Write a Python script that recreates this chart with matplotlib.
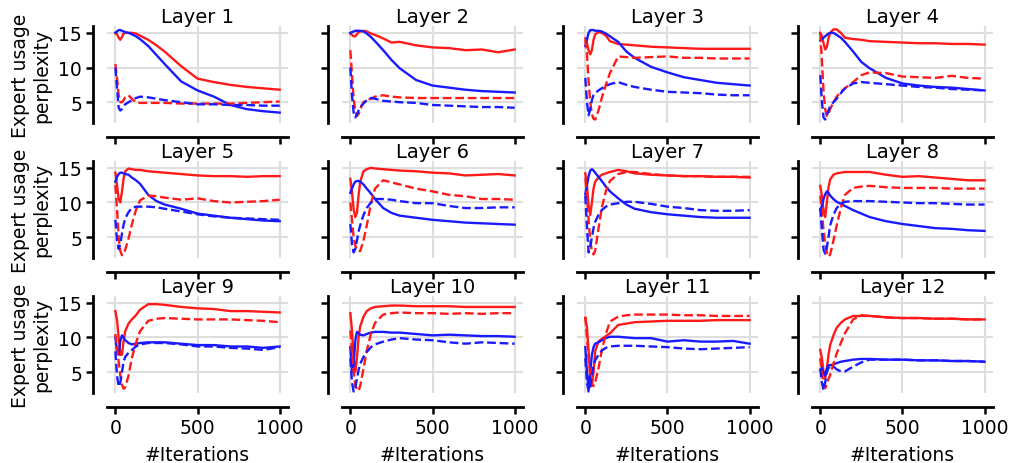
import numpy as np
import matplotlib
matplotlib.use("Agg")
import matplotlib.pyplot as plt

iters = [0, 10, 20, 30, 40, 50, 60, 80, 100, 125, 150, 200, 250, 300, 400, 500, 600, 700, 800, 900, 1000]
layers = ["Layer %d" % i for i in range(1, 13)]

# per layer: red solid, blue solid, red dashed, blue dashed
red_solid = [
    [15.0, 14.8, 14.3, 14.0, 14.4, 14.9, 15.0, 15.0, 15.0, 14.9, 14.6, 14.0, 13.2, 12.3, 10.2, 8.4, 7.9, 7.5, 7.2, 7.0, 6.8],
    [14.9, 14.7, 14.5, 14.5, 14.8, 15.1, 15.2, 15.3, 15.2, 14.9, 14.7, 14.2, 13.6, 13.7, 13.2, 12.9, 12.8, 12.5, 12.6, 12.2, 12.6],
    [14.2, 13.5, 12.5, 11.9, 12.5, 14.0, 14.8, 15.1, 15.0, 14.6, 13.8, 13.4, 13.3, 13.2, 13.0, 12.9, 12.8, 12.7, 12.7, 12.7, 12.7],
    [15.0, 14.5, 13.5, 12.6, 13.0, 14.2, 15.0, 15.5, 15.5, 15.0, 14.3, 14.1, 14.0, 13.8, 13.7, 13.6, 13.5, 13.5, 13.4, 13.4, 13.3],
    [14.3, 12.5, 10.5, 10.0, 11.5, 13.5, 14.5, 14.9, 14.8, 14.7, 14.7, 14.5, 14.4, 14.3, 14.1, 13.9, 13.8, 13.8, 13.7, 13.8, 13.8],
    [13.4, 11.5, 9.0, 7.9, 8.5, 11.0, 13.0, 14.5, 14.8, 15.0, 14.9, 14.8, 14.7, 14.6, 14.5, 14.3, 14.2, 13.9, 14.0, 14.1, 13.9],
    [14.2, 12.5, 9.5, 8.2, 10.0, 12.0, 13.0, 13.6, 14.0, 14.2, 14.4, 14.7, 14.5, 14.2, 14.0, 13.9, 13.8, 13.8, 13.7, 13.7, 13.6],
    [12.4, 11.0, 8.8, 7.9, 10.0, 12.2, 13.3, 14.0, 14.2, 14.3, 14.4, 14.4, 14.4, 14.4, 14.0, 13.7, 13.8, 13.6, 13.4, 13.2, 13.2],
    [13.8, 12.5, 10.0, 7.5, 7.5, 9.5, 10.9, 12.0, 12.6, 13.2, 14.0, 14.8, 14.8, 14.7, 14.4, 14.2, 14.1, 13.8, 13.8, 13.7, 13.6],
    [13.5, 11.0, 7.0, 5.0, 7.0, 10.0, 11.6, 13.0, 13.8, 14.2, 14.4, 14.5, 14.6, 14.6, 14.5, 14.5, 14.5, 14.4, 14.4, 14.4, 14.4],
    [12.8, 11.5, 8.0, 4.5, 3.0, 5.0, 8.0, 9.4, 9.8, 10.2, 10.6, 11.8, 12.0, 12.2, 12.3, 12.4, 12.4, 12.4, 12.5, 12.5, 12.5],
    [8.2, 7.0, 5.0, 4.1, 5.5, 7.5, 8.9, 10.3, 11.4, 12.1, 12.6, 13.1, 13.1, 13.1, 12.9, 12.8, 12.8, 12.7, 12.7, 12.6, 12.6],
]
blue_solid = [
    [15.0, 15.2, 15.4, 15.4, 15.3, 15.2, 15.1, 15.0, 14.8, 14.5, 14.1, 13.1, 11.8, 10.5, 8.0, 6.7, 5.8, 4.6, 4.0, 3.7, 3.5],
    [15.0, 15.1, 15.2, 15.3, 15.3, 15.3, 15.3, 15.2, 14.9, 14.4, 13.8, 12.5, 11.1, 9.9, 8.2, 7.4, 7.1, 6.8, 6.6, 6.5, 6.4],
    [13.1, 14.0, 15.0, 15.4, 15.4, 15.4, 15.3, 15.3, 15.2, 14.9, 14.5, 13.7, 12.3, 11.4, 10.1, 9.3, 8.6, 8.2, 7.8, 7.6, 7.4],
    [13.9, 14.1, 14.3, 14.5, 14.7, 14.9, 15.0, 15.0, 14.7, 14.3, 13.7, 12.3, 10.8, 9.9, 8.5, 7.7, 7.4, 7.2, 7.1, 6.9, 6.7],
    [13.0, 13.7, 14.1, 14.3, 14.3, 14.2, 14.1, 14.0, 13.6, 13.2, 12.7, 11.1, 10.2, 9.7, 9.1, 8.4, 8.1, 7.8, 7.6, 7.4, 7.3],
    [11.4, 12.0, 12.6, 13.0, 13.1, 13.1, 13.0, 12.6, 12.0, 11.3, 10.5, 9.2, 8.5, 8.1, 7.8, 7.5, 7.3, 7.1, 7.0, 6.9, 6.8],
    [11.2, 12.5, 13.8, 14.6, 14.8, 14.6, 14.3, 13.7, 13.1, 12.3, 11.6, 10.6, 9.7, 9.1, 8.6, 8.3, 8.1, 7.9, 7.8, 7.8, 7.8],
    [8.9, 9.5, 10.5, 11.2, 11.6, 11.4, 11.0, 10.5, 10.1, 9.8, 9.5, 8.9, 8.4, 7.9, 7.3, 6.9, 6.6, 6.3, 6.2, 6.0, 5.9],
    [10.0, 8.0, 7.5, 9.5, 10.3, 10.0, 9.6, 9.2, 9.0, 9.1, 9.2, 9.3, 9.3, 9.3, 9.1, 8.9, 8.9, 8.7, 8.7, 8.5, 8.7],
    [8.6, 5.0, 6.0, 9.5, 10.8, 10.6, 10.4, 10.3, 10.5, 10.7, 10.8, 10.8, 10.7, 10.7, 10.5, 10.3, 10.4, 10.3, 10.2, 10.2, 10.1],
    [8.6, 5.0, 2.5, 5.0, 7.5, 8.6, 9.1, 9.3, 9.6, 9.9, 10.1, 10.1, 10.0, 9.9, 9.9, 9.4, 9.6, 9.4, 9.4, 9.5, 9.1],
    [5.3, 5.6, 5.0, 4.5, 5.5, 6.0, 6.0, 6.1, 6.3, 6.5, 6.6, 6.8, 6.9, 6.9, 6.8, 6.8, 6.7, 6.7, 6.6, 6.6, 6.5],
]
red_dashed = [
    [10.5, 8.5, 6.0, 5.0, 5.0, 5.3, 5.7, 6.0, 5.5, 5.0, 4.9, 4.9, 4.9, 4.9, 4.8, 4.8, 4.8, 4.8, 4.9, 5.0, 5.1],
    [12.5, 9.0, 5.5, 3.8, 3.0, 3.3, 4.0, 5.0, 5.3, 5.5, 5.8, 6.0, 5.8, 5.7, 5.6, 5.6, 5.6, 5.6, 5.6, 5.6, 5.6],
    [14.0, 12.0, 8.0, 5.0, 3.3, 2.6, 2.5, 3.8, 5.6, 7.5, 9.2, 11.6, 11.5, 11.4, 11.5, 11.6, 11.4, 11.4, 11.3, 11.3, 11.3],
    [15.0, 11.0, 6.5, 4.0, 3.0, 3.3, 4.0, 5.0, 5.8, 6.5, 7.0, 7.9, 8.9, 9.3, 9.2, 8.7, 8.6, 8.5, 8.8, 8.5, 8.4],
    [12.5, 9.0, 5.0, 3.0, 2.4, 2.6, 3.2, 4.8, 6.8, 8.9, 10.3, 11.0, 10.9, 10.7, 10.4, 10.6, 10.2, 10.0, 10.1, 10.2, 10.4],
    [10.0, 7.5, 5.0, 3.8, 3.2, 3.0, 3.0, 4.5, 6.7, 9.8, 12.0, 13.2, 12.9, 12.6, 12.0, 11.6, 11.1, 10.9, 10.5, 10.5, 10.4],
    [13.5, 11.0, 7.5, 4.5, 3.0, 2.5, 3.0, 6.2, 9.2, 11.6, 13.1, 14.1, 14.4, 14.4, 14.1, 13.9, 13.8, 13.8, 13.7, 13.7, 13.7],
    [11.0, 8.5, 6.0, 4.0, 2.8, 2.2, 2.5, 4.5, 6.7, 9.2, 11.1, 12.1, 12.3, 12.4, 12.2, 12.1, 12.1, 12.1, 12.0, 12.0, 12.0],
    [10.5, 8.5, 6.5, 4.5, 3.2, 2.6, 2.8, 4.5, 7.0, 9.2, 10.9, 12.4, 12.7, 12.8, 12.7, 12.6, 12.6, 12.6, 12.5, 12.4, 12.2],
    [11.0, 8.0, 5.0, 3.2, 2.5, 2.3, 3.0, 5.5, 8.1, 10.5, 12.1, 13.3, 13.5, 13.6, 13.5, 13.5, 13.4, 13.5, 13.4, 13.5, 13.5],
    [13.0, 10.0, 7.0, 4.5, 3.3, 3.0, 3.5, 5.5, 8.1, 10.5, 12.3, 13.0, 13.2, 13.3, 13.3, 13.3, 13.2, 13.2, 13.1, 13.1, 13.1],
    [7.0, 5.0, 3.2, 2.7, 3.2, 4.0, 4.6, 6.2, 7.7, 9.2, 10.6, 12.6, 13.2, 13.1, 12.9, 12.8, 12.8, 12.7, 12.7, 12.6, 12.6],
]
blue_dashed = [
    [10.0, 7.0, 4.2, 3.8, 4.0, 4.4, 4.7, 5.0, 5.3, 5.6, 5.8, 5.7, 5.5, 5.3, 5.0, 4.7, 4.7, 4.6, 4.6, 4.5, 4.5],
    [10.0, 6.0, 3.5, 2.8, 3.2, 3.8, 4.3, 4.8, 5.3, 5.6, 5.5, 5.2, 5.1, 5.0, 4.9, 4.6, 4.5, 4.4, 4.3, 4.3, 4.2],
    [8.5, 5.0, 3.1, 4.0, 5.3, 6.0, 6.3, 6.7, 7.0, 7.3, 7.6, 7.9, 7.5, 7.2, 6.8, 6.5, 6.4, 6.3, 6.1, 6.0, 6.0],
    [8.9, 5.0, 2.8, 2.5, 3.0, 3.8, 4.4, 5.0, 5.5, 6.3, 7.0, 7.7, 7.9, 7.8, 7.6, 7.4, 7.2, 7.1, 6.9, 6.8, 6.7],
    [7.5, 4.5, 3.3, 4.0, 5.5, 6.8, 7.7, 8.6, 9.2, 9.4, 9.4, 9.4, 9.3, 9.1, 8.7, 8.3, 8.0, 7.8, 7.7, 7.6, 7.5],
    [6.9, 4.0, 2.8, 3.3, 4.5, 5.8, 6.7, 8.2, 9.2, 10.0, 10.5, 10.5, 10.4, 10.2, 9.9, 9.9, 9.5, 9.2, 9.2, 9.3, 9.3],
    [11.0, 6.5, 2.8, 3.5, 5.0, 6.3, 7.2, 8.2, 8.9, 9.4, 9.7, 9.9, 10.1, 10.1, 9.8, 9.4, 9.2, 8.9, 8.8, 8.8, 8.9],
    [9.2, 6.0, 3.2, 2.6, 3.5, 5.0, 6.7, 8.2, 9.2, 9.8, 10.1, 10.2, 10.2, 10.2, 10.1, 10.0, 9.9, 9.9, 9.8, 9.7, 9.7],
    [8.0, 4.5, 2.9, 3.5, 5.0, 6.5, 7.2, 7.8, 8.2, 8.7, 9.0, 9.2, 9.2, 9.2, 9.0, 8.7, 8.7, 8.5, 8.4, 8.2, 8.6],
    [7.0, 3.5, 2.2, 2.8, 4.0, 5.3, 6.2, 7.2, 7.9, 8.6, 9.0, 9.4, 9.7, 9.9, 9.7, 9.6, 9.3, 9.1, 9.3, 9.2, 9.1],
    [7.0, 3.5, 2.2, 3.0, 4.5, 6.0, 6.7, 7.5, 8.1, 8.5, 8.7, 8.8, 8.8, 8.8, 8.7, 8.6, 8.4, 8.3, 8.4, 8.5, 8.6],
    [5.5, 3.5, 2.4, 3.5, 5.0, 5.6, 5.8, 5.8, 5.4, 5.1, 5.1, 5.8, 6.4, 6.8, 6.8, 6.8, 6.7, 6.7, 6.6, 6.6, 6.5],
]

plt.rcParams['font.family'] = 'DejaVu Sans'
fig, axes = plt.subplots(3, 4, figsize=(10.11, 4.64), dpi=100, sharex=True, sharey=True)
fig.subplots_adjust(left=0.106, right=0.982, top=0.942, bottom=0.151, wspace=0.3, hspace=0.39)

red = (1.0, 0.1, 0.1)
blue = (0.1, 0.1, 1.0)
for k, ax in enumerate(axes.flat):
    ax.plot(iters, red_solid[k], color=red, lw=1.7)
    ax.plot(iters, blue_solid[k], color=blue, lw=1.7)
    ax.plot(iters, red_dashed[k], color=red, lw=1.7, ls='--')
    ax.plot(iters, blue_dashed[k], color=blue, lw=1.7, ls='--')
    ax.set_title(layers[k], fontsize=14, pad=2)
    ax.set_xlim(-50, 1050)
    ax.set_ylim(2, 16)
    ax.set_xticks([0, 500, 1000])
    ax.set_yticks([5, 10, 15])
    ax.grid(True, color='#dedede', lw=1.5)
    ax.set_axisbelow(True)
    for s in ['top', 'right']:
        ax.spines[s].set_visible(False)
    for s in ['left', 'bottom']:
        ax.spines[s].set_position(('outward', 10))
        ax.spines[s].set_linewidth(2.0)
    ax.tick_params(labelsize=13.5, length=5, width=1.8, pad=3)
    if k % 4 == 0:
        ax.set_ylabel("Expert usage\nperplexity", fontsize=13.5, labelpad=5, linespacing=1.15)
    if k >= 8:
        ax.set_xlabel("#Iterations", fontsize=13.5, labelpad=6)

fig.savefig("out.png", dpi=100)
